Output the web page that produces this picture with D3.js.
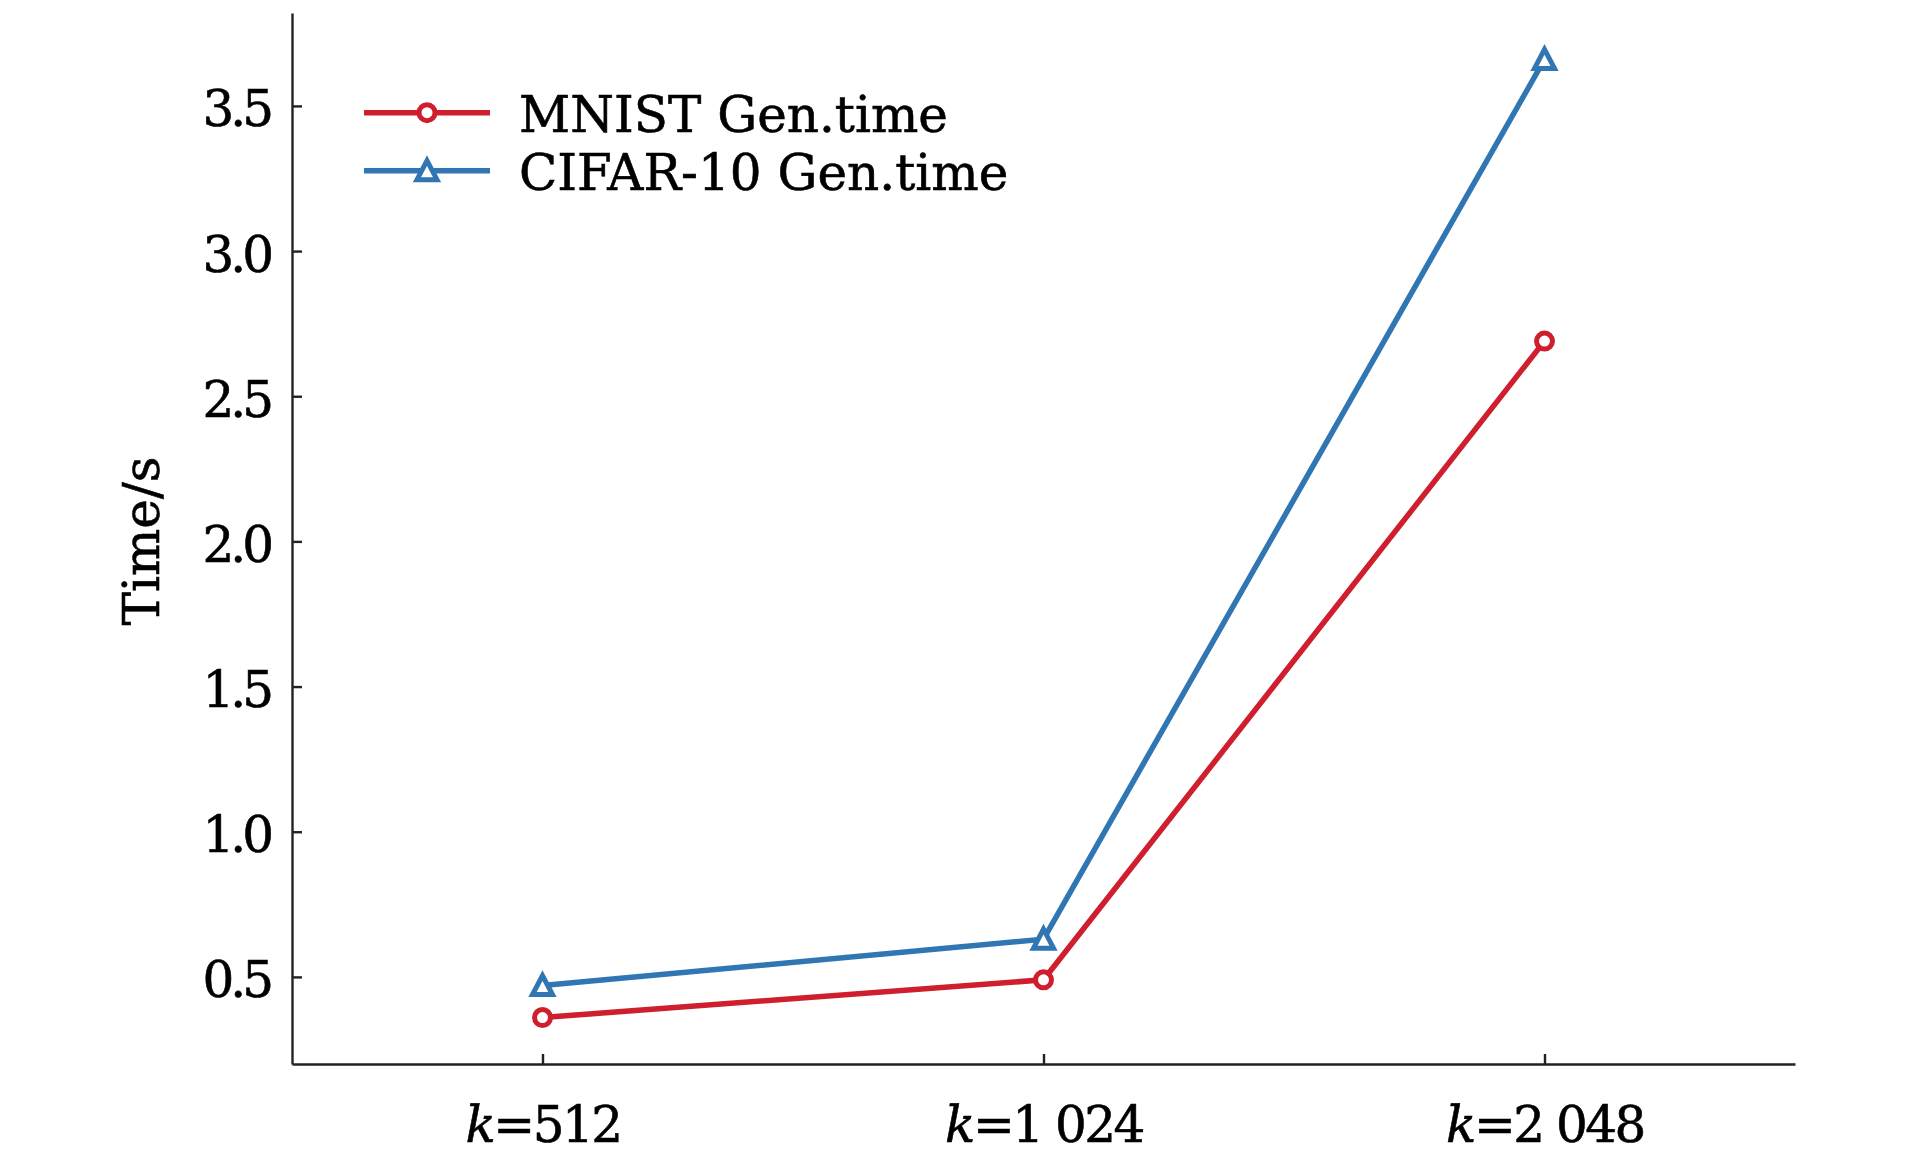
<!DOCTYPE html>
<head>
    <title>Gen.time</title>
    <script src="https://cdn.jsdelivr.net/npm/d3@7"></script>
    <style>
        body { margin: 0; background: #fff; }
        text { font-family: "DejaVu Serif", serif; fill: #000; stroke: #000; stroke-width: 0.6px; }
    </style>
</head>
<body>

<div id="container"></div>

<script>

// Data
const categories = ["512", "1 024", "2 048"];
const mnist = [0.36, 0.49, 2.69];
const cifar = [0.47, 0.63, 3.66];
const yTicks = [0.5, 1.0, 1.5, 2.0, 2.5, 3.0, 3.5];
const seriesNames = ["MNIST Gen.time", "CIFAR-10 Gen.time"];

const width = 1913;
const height = 1157;
const red = "#cf1f2e";
const blue = "#2f76b2";
const fontSize = 50;

const svg = d3.select("#container").append("svg")
    .attr("width", width)
    .attr("height", height);

const x = d3.scalePoint()
    .domain(categories)
    .range([292, 1795])
    .padding(0.5);

const y = d3.scaleLinear()
    .domain([0.2, 3.82])
    .range([1064, 13]);

// Axes: ticks point inward
const yAxis = svg.append("g")
    .attr("transform", "translate(292,0)")
    .call(d3.axisLeft(y)
        .tickValues(yTicks)
        .tickFormat(d3.format(".1f"))
        .tickSize(-10)
        .tickSizeOuter(0)
        .tickPadding(26));

const xAxis = svg.append("g")
    .attr("transform", "translate(0,1064)")
    .call(d3.axisBottom(x)
        .tickSize(-10)
        .tickSizeOuter(0));

svg.selectAll(".domain, .tick line")
    .attr("stroke", "#222")
    .attr("stroke-width", 2.4);

yAxis.selectAll("text")
    .attr("font-size", fontSize)
    .attr("font-family", null)
    .attr("letter-spacing", -4)
    .attr("dx", 4)
    .attr("dy", "0.4em");

// x labels with italic k
xAxis.selectAll(".tick text").remove();
xAxis.selectAll(".tick").append("text")
    .attr("y", 78)
    .attr("text-anchor", "middle")
    .attr("font-size", fontSize)
    .attr("letter-spacing", -2.5)
    .each(function(d) {
        const t = d3.select(this);
        t.append("tspan").attr("font-style", "italic").text("k");
        t.append("tspan").text("=" + d);
    });

// y label
svg.append("text")
    .attr("transform", "translate(159,541) rotate(-90)")
    .attr("text-anchor", "middle")
    .attr("font-size", fontSize)
    .text("Time/s");

// lines
const line = d3.line()
    .x((d, i) => x(categories[i]))
    .y(d => y(d));

const tri = s => `M0,${-s}L${s},${s * 0.9}L${-s},${s * 0.9}Z`;

function drawMarker(g, marker, cx, cy, color) {
    if (marker === "circle") {
        g.append("circle")
            .attr("cx", cx)
            .attr("cy", cy)
            .attr("r", 8)
            .attr("fill", "#fff")
            .attr("stroke", color)
            .attr("stroke-width", 5);
    } else {
        g.append("path")
            .attr("transform", `translate(${cx},${cy})`)
            .attr("d", tri(10))
            .attr("fill", "#fff")
            .attr("stroke", color)
            .attr("stroke-width", 5);
    }
}

function drawSeries(values, color, marker) {
    svg.append("path")
        .datum(values)
        .attr("d", line)
        .attr("fill", "none")
        .attr("stroke", color)
        .attr("stroke-width", 5.5);

    const g = svg.append("g");
    values.forEach((v, i) => drawMarker(g, marker, x(categories[i]), y(v), color));
}

drawSeries(mnist, red, "circle");
drawSeries(cifar, blue, "triangle");

// Legend
const legend = svg.append("g");
const legendItems = [
    {name: seriesNames[0], color: red, marker: "circle", y: 112.7},
    {name: seriesNames[1], color: blue, marker: "triangle", y: 170.7}
];

legendItems.forEach(item => {
    legend.append("line")
        .attr("x1", 364).attr("x2", 490)
        .attr("y1", item.y).attr("y2", item.y)
        .attr("stroke", item.color)
        .attr("stroke-width", 5.5);
    drawMarker(legend, item.marker, 427, item.y, item.color);
    legend.append("text")
        .attr("x", 519)
        .attr("y", item.y + 19.5)
        .attr("font-size", fontSize)
        .text(item.name);
});

</script>

</body>
